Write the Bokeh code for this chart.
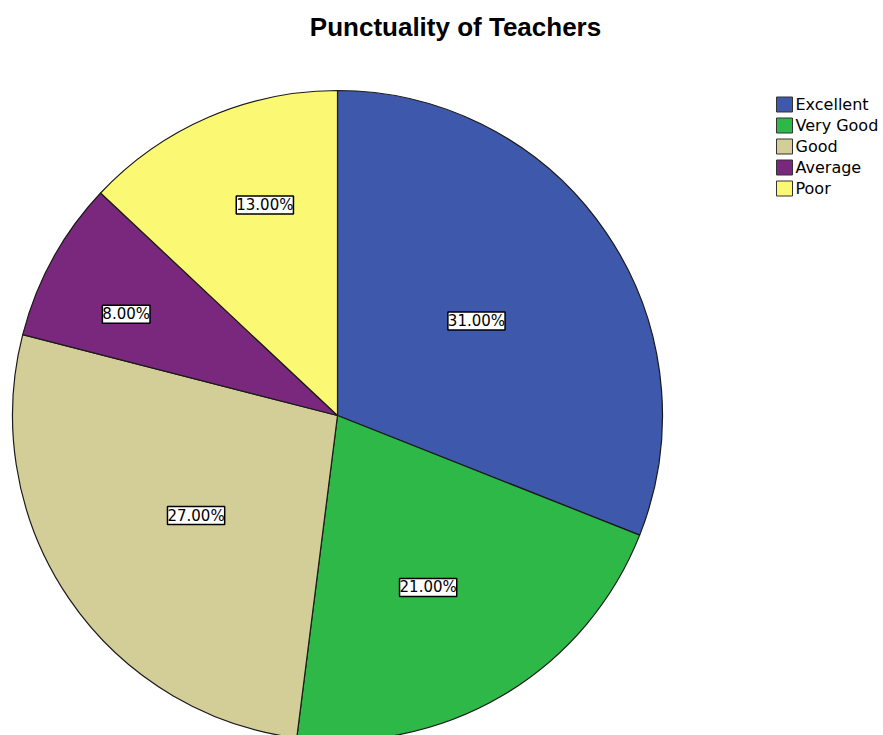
import math
from bokeh.plotting import figure
from bokeh.models import Range1d, ColumnDataSource, LabelSet
from bokeh.core.properties import value
from bokeh.embed import file_html
from bokeh.resources import INLINE

# ---- data ----
categories = ["Excellent", "Very Good", "Good", "Average", "Poor"]
percents = [31.0, 21.0, 27.0, 8.0, 13.0]
colors = ["#3E58AC", "#2EB848", "#D3CE97", "#79287D", "#FBF873"]
title_text = "Punctuality of Teachers"

# ---- layout (pixels) ----
W, H = 883, 735
cx, cy = 337, H - 415
R = 325
# label placement: radial fraction and position inside each slice's angle span
label_rfrac = [0.517, 0.598, 0.533, 0.721, 0.685]
label_afrac = [0.50, 0.537, 0.489, 0.389, 0.593]

p = figure(width=W, height=H, output_backend="svg", toolbar_location=None,
           x_range=Range1d(0, W), y_range=Range1d(0, H), min_border=0,
           outline_line_color=None, background_fill_color="white",
           border_fill_color="white")
p.axis.visible = False
p.grid.visible = False

total = sum(percents)
starts, ends, lx, ly, texts = [], [], [], [], []
cum = 0.0
for i, v in enumerate(percents):
    a0 = math.pi / 2 - 2 * math.pi * cum / total
    a1 = math.pi / 2 - 2 * math.pi * (cum + v) / total
    starts.append(a0)
    ends.append(a1)
    ang = a0 + (a1 - a0) * label_afrac[i]
    lx.append(cx + R * label_rfrac[i] * math.cos(ang))
    ly.append(cy + R * label_rfrac[i] * math.sin(ang))
    texts.append(f"{v:.2f}%")
    cum += v

src = ColumnDataSource(dict(start=starts, end=ends, color=colors, cat=categories))
p.wedge(x=cx, y=cy, radius=R, start_angle="start", end_angle="end",
        direction="clock", fill_color="color", line_color="#1a1a1a",
        line_width=1.2, source=src)

lsrc = ColumnDataSource(dict(x=lx, y=ly, t=texts))
p.add_layout(LabelSet(x="x", y="y", text="t", source=lsrc,
                      text_align="center", text_baseline="middle",
                      text_font=value("DejaVu Sans"), text_font_size="15px",
                      text_color="black",
                      background_fill_color="white",
                      border_line_color="black", border_line_width=1.5))

# title
p.text(x=[455], y=[H - 26], text=[title_text], text_align="center",
       text_baseline="middle", text_font=value("Liberation Sans"),
       text_font_style="bold", text_font_size="26px", text_color="black")

# legend
leg_y = [H - (104 + 21 * i) for i in range(len(categories))]
p.rect(x=[784] * len(categories), y=leg_y, width=16, height=15,
       fill_color=colors, line_color="#333333", line_width=1)
p.text(x=[795] * len(categories), y=leg_y, text=categories,
       text_align="left", text_baseline="middle",
       text_font=value("DejaVu Sans"), text_font_size="16px",
       text_color="black")

open("out.html", "w").write(file_html(p, INLINE))
